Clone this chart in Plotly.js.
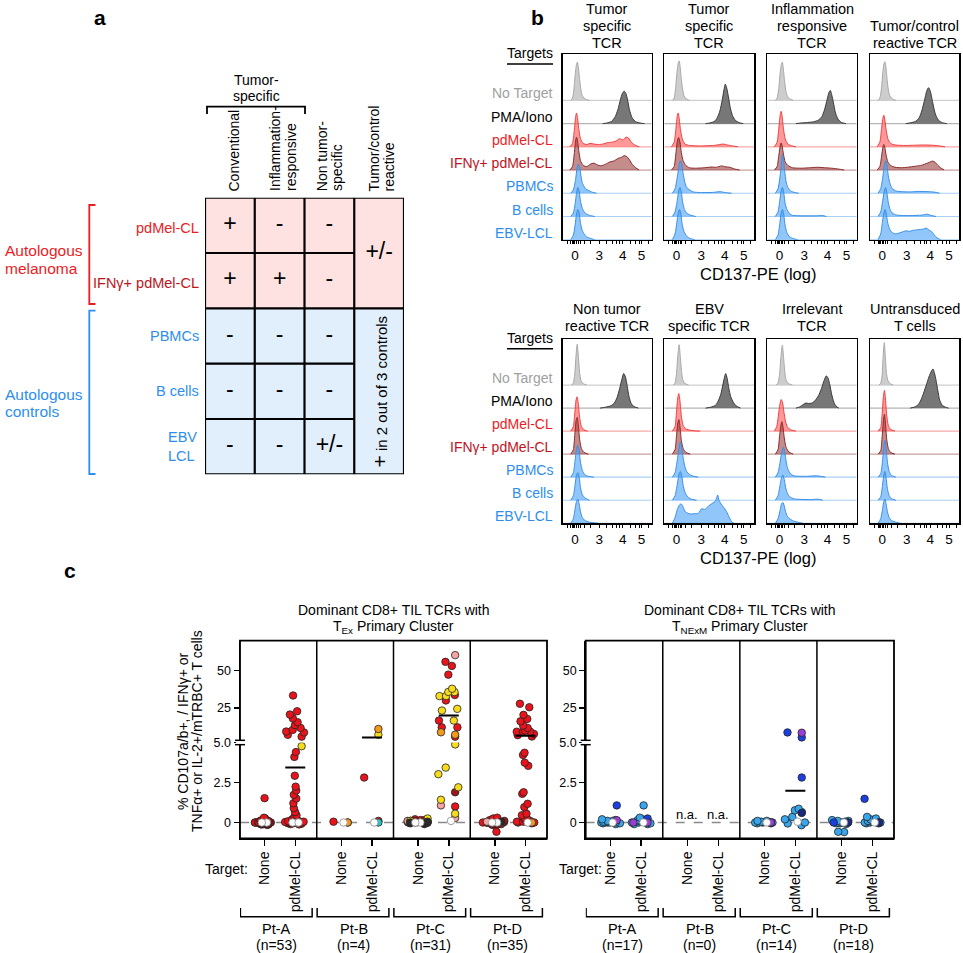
<!DOCTYPE html>
<html><head><meta charset="utf-8">
<script src="https://cdn.plot.ly/plotly-3.0.1.min.js"></script>
<style>body{margin:0;background:#fff}#chart{width:963px;height:953px}</style>
</head><body><div id="chart"></div>
<script>
// ================= Panel a data =================
const tableRows = ['pdMel-CL', 'IFNγ+ pdMel-CL', 'PBMCs', 'B cells', 'EBV<br>LCL'];
const tableRowGroup = [0, 0, 1, 1, 1];
const tableCols = [['Conventional'], ['Inflammation-','responsive'], ['Non tumor-','specific'], ['Tumor/control','reactive']];
const tableCells = [['+','-','-'],['+','+','-'],['-','-','-'],['-','-','-'],['-','-','+/-']];
const tableMergedTop = '+/-';
const tableMergedBottom = '<span style="font-size:21px">+</span> in 2 out of 3 controls';
const tableGroups = [['Autologous','melanoma'], ['Autologous','controls']];

// ================= Panel b data =================
const targets = ['No Target','PMA/Iono','pdMel-CL','IFNγ+ pdMel-CL','PBMCs','B cells','EBV-LCL'];
const histTitles = [['Tumor','specific','TCR'],['Tumor','specific','TCR'],['Inflammation','responsive','TCR'],['Tumor/control','reactive TCR'],
                    ['Non tumor','reactive TCR'],['EBV','specific TCR'],['Irrelevant','TCR'],['Untransduced','T cells']];
const cd137TickVals = [13.7, 41.2, 67.4, 88.6];
const cd137TickText = ['0','3','4','5'];
const cd137MinorTicks = [5, 9, 11, 12.3, 15.5, 17.5, 19.5, 24, 30.7, 49.4, 56.2, 60.7, 63.7, 75.7, 81.3, 86.1, 96.3];

const histTumorSpec1 = [
 [[9,0],[11,0.1],[12.5,0.45],[14,1.1],[15.5,1.55],[16.5,1.65],[17.5,1.45],[19,0.9],[20.5,0.45],[22,0.2],[24,0.1],[27,0.03],[30,0]],
 [[45,0],[50,0.03],[55,0.1],[59,0.3],[62,0.6],[65,1.05],[67,1.3],[69,1.4],[71,1.3],[73,1.0],[75,0.6],[78,0.25],[82,0.08],[88,0.02],[92,0]],
 [[8,0],[11,0.15],[13,0.7],[14.5,1.3],[15.5,1.46],[16.5,1.3],[18,0.8],[20,0.35],[23,0.15],[27,0.1],[31,0.15],[35,0.12],[40,0.1],[45,0.12],[50,0.18],[55,0.2],[60,0.25],[64,0.35],[68,0.3],[71,0.42],[74,0.38],[77,0.2],[81,0.08],[86,0]],
 [[8,0],[11,0.15],[13,0.7],[14.5,1.25],[15.5,1.42],[16.5,1.3],[18,0.85],[20,0.4],[23,0.2],[27,0.15],[31,0.25],[35,0.3],[39,0.22],[43,0.18],[48,0.25],[53,0.35],[58,0.4],[62,0.5],[66,0.55],[69,0.62],[72,0.58],[75,0.45],[78,0.25],[82,0.1],[86,0]],
 [[9,0],[12,0.15],[14.5,0.6],[16,1.05],[17.5,1.25],[19,1.15],[20.5,0.75],[22,0.45],[24,0.3],[26,0.18],[29,0.12],[33,0.05],[38,0]],
 [[9,0],[12,0.15],[14,0.55],[15.5,1.0],[17,1.25],[18.5,1.1],[20,0.65],[22,0.35],[24,0.2],[27,0.1],[31,0.04],[36,0]],
 [[9,0],[12,0.2],[14,0.65],[15.5,1.1],[17,1.3],[18.5,1.15],[20,0.7],[22,0.4],[24,0.25],[27,0.12],[31,0.06],[36,0]]
];
const histTumorSpec2 = [
 [[9,0],[11,0.1],[12.5,0.5],[14,1.15],[15.5,1.6],[16.5,1.7],[17.5,1.5],[19,0.9],[20.5,0.45],[22,0.2],[24,0.08],[28,0]],
 [[46,0],[51,0.03],[56,0.1],[59,0.25],[62,0.55],[64.5,1.0],[66.5,1.45],[68,1.7],[69.5,1.55],[71.5,1.15],[73.5,0.7],[76,0.35],[79,0.15],[83,0.05],[88,0]],
 [[8,0],[11,0.2],[13,0.8],[14.5,1.35],[15.5,1.46],[16.5,1.25],[18,0.75],[20,0.35],[23,0.12],[28,0.06],[40,0.04],[55,0.06],[62,0.1],[66,0.12],[70,0.08],[76,0.04],[82,0]],
 [[8,0],[11,0.15],[13,0.75],[14.5,1.25],[16,1.4],[17.5,1.2],[19,0.75],[21,0.4],[24,0.2],[28,0.1],[35,0.08],[45,0.1],[52,0.13],[58,0.12],[64,0.18],[68,0.14],[73,0.12],[78,0.05],[84,0]],
 [[9,0],[12,0.2],[14.5,0.7],[16.5,1.2],[18,1.4],[19.5,1.25],[21,0.85],[23,0.45],[25,0.25],[28,0.15],[32,0.06],[40,0.03],[55,0.04],[62,0.07],[68,0.03],[75,0]],
 [[9,0],[12,0.2],[14.5,0.7],[16,1.1],[17.5,1.25],[19,1.05],[20.5,0.6],[22.5,0.3],[25,0.15],[29,0.06],[35,0]],
 [[9,0],[12,0.25],[14,0.75],[15.5,1.15],[17,1.3],[18.5,1.1],[20,0.65],[22,0.35],[25,0.15],[29,0.05],[34,0]]
];
const histInflResp = [
 [[9,0],[11,0.1],[12.8,0.5],[14.3,1.15],[15.8,1.58],[16.8,1.65],[17.8,1.4],[19.3,0.85],[20.8,0.4],[22.5,0.18],[25,0.07],[29,0]],
 [[32,0],[38,0.03],[45,0.05],[52,0.08],[57,0.15],[61,0.3],[64,0.6],[67,1.05],[69,1.35],[70.5,1.43],[72,1.25],[74,0.9],[76,0.5],[79,0.2],[83,0.05],[88,0]],
 [[8,0],[11,0.2],[13,0.85],[14.5,1.4],[15.5,1.53],[16.5,1.35],[18,0.8],[20,0.35],[23,0.12],[27,0.05],[32,0]],
 [[8,0],[11,0.15],[13,0.65],[14.5,1.05],[15.5,1.17],[16.5,1.05],[18,0.7],[20,0.35],[23,0.2],[28,0.1],[38,0.08],[48,0.1],[56,0.12],[64,0.1],[72,0.08],[80,0.04],[86,0]],
 [[9,0],[12,0.2],[14.5,0.8],[16,1.4],[17,1.67],[18,1.5],[19.5,0.95],[21,0.5],[23,0.25],[26,0.1],[30,0.04],[35,0]],
 [[9,0],[12,0.2],[14,0.7],[15.5,1.1],[17,1.25],[18.5,1.0],[20,0.55],[22,0.3],[25,0.12],[28,0.05],[55,0.03],[62,0.04],[66,0]],
 [[9,0],[12,0.2],[14,0.7],[15.5,1.15],[17,1.3],[18.5,1.05],[20,0.6],[22,0.3],[25,0.12],[29,0.05],[34,0]]
];
const histTumorCtrl = [
 [[9,0],[11,0.1],[12.8,0.5],[14.3,1.2],[15.8,1.6],[16.8,1.67],[17.8,1.45],[19.3,0.85],[20.8,0.4],[22.5,0.18],[25,0.07],[29,0]],
 [[40,0],[46,0.04],[51,0.1],[55,0.25],[58,0.55],[61,1.0],[63.5,1.4],[65.5,1.55],[67.5,1.4],[70,0.95],[72.5,0.5],[75,0.25],[78,0.1],[82,0.03],[86,0]],
 [[8,0],[11,0.2],[13,0.8],[14.5,1.25],[15.5,1.36],[16.5,1.2],[18,0.75],[20,0.35],[23,0.15],[28,0.08],[40,0.06],[50,0.07],[60,0.08],[70,0.07],[78,0.04],[84,0]],
 [[8,0],[11,0.15],[13,0.6],[14.5,1.0],[15.5,1.1],[16.5,1.0],[18,0.65],[20,0.35],[23,0.2],[28,0.12],[35,0.1],[42,0.12],[48,0.15],[54,0.18],[59,0.22],[63,0.28],[67,0.34],[70,0.39],[73,0.33],[76,0.2],[79,0.1],[83,0]],
 [[9,0],[12,0.2],[14.5,0.75],[16,1.2],[17.5,1.4],[19,1.2],[20.5,0.75],[22.5,0.4],[25,0.2],[29,0.1],[35,0.07],[45,0.06],[55,0.08],[65,0.07],[72,0.05],[78,0]],
 [[9,0],[12,0.2],[14.5,0.75],[16,1.1],[17.5,1.25],[19,1.0],[20.5,0.6],[22.5,0.3],[25,0.15],[30,0.06],[45,0.04],[58,0.06],[64,0.1],[68,0.05],[74,0]],
 [[9,0],[12,0.25],[14,0.8],[15.5,1.15],[17,1.3],[18.5,1.05],[20,0.7],[22,0.45],[25,0.3],[28,0.25],[32,0.28],[36,0.33],[40,0.38],[44,0.36],[48,0.4],[52,0.42],[56,0.44],[60,0.46],[63,0.5],[66,0.42],[69,0.35],[72,0.2],[75,0.08],[79,0]]
];
const histNonTumor = [
 [[10,0],[12,0.1],[13.5,0.45],[15,1.3],[16.3,1.77],[17.5,1.3],[19,0.55],[20.5,0.2],[23,0.06],[27,0]],
 [[42,0],[48,0.04],[54,0.1],[58,0.22],[61,0.45],[64,0.85],[66.5,1.25],[68.5,1.5],[70.5,1.35],[72.5,0.95],[74.5,0.5],[77,0.2],[80,0.07],[85,0]],
 [[9,0],[12,0.2],[13.5,0.75],[15,1.35],[16.2,1.49],[17.5,1.2],[19,0.6],[21,0.2],[24,0.06],[28,0]],
 [[9,0],[12,0.2],[13.5,0.8],[15,1.45],[16.3,1.6],[17.5,1.3],[19,0.65],[21,0.25],[24,0.08],[29,0]],
 [[9,0],[12,0.2],[14,0.75],[15.5,1.25],[17,1.39],[18.5,1.15],[20,0.65],[22,0.3],[25,0.1],[29,0.04],[35,0]],
 [[9,0],[12,0.2],[14,0.7],[15.5,1.1],[17,1.2],[18.5,1.0],[20,0.55],[22,0.25],[25,0.1],[30,0]],
 [[9,0],[12,0.2],[14,0.65],[15.5,0.95],[17,1.05],[18.5,0.85],[20,0.5],[22,0.25],[25,0.12],[30,0.05],[40,0]]
];
const histEBV = [
 [[10,0],[12,0.1],[13.5,0.45],[15,1.25],[16.5,1.75],[17.7,1.3],[19.2,0.6],[20.7,0.22],[23,0.07],[27,0]],
 [[46,0],[52,0.04],[57,0.12],[60,0.3],[63,0.6],[65.5,1.05],[67.5,1.4],[68.5,1.5],[70,1.3],[72,0.85],[74,0.5],[77,0.25],[80,0.1],[85,0]],
 [[9,0],[12,0.2],[13.5,0.8],[15,1.45],[16.2,1.63],[17.5,1.3],[19,0.65],[21,0.25],[24,0.1],[30,0.03],[40,0]],
 [[9,0],[12,0.2],[13.5,0.75],[15,1.35],[16.3,1.5],[17.5,1.2],[19,0.6],[21,0.25],[24,0.08],[29,0]],
 [[9,0],[12,0.2],[14.5,0.75],[16.5,1.3],[18,1.53],[19.5,1.3],[21,0.85],[23,0.45],[25,0.25],[28,0.12],[32,0.05],[38,0]],
 [[9,0],[12,0.2],[14.5,0.7],[16.5,1.15],[18,1.25],[19.5,1.05],[21,0.65],[23,0.35],[26,0.15],[30,0.05],[36,0]],
 [[9,0],[12,0.25],[14.5,0.6],[17,0.8],[19,0.84],[21,0.7],[23.5,0.5],[26.5,0.43],[30,0.4],[34,0.42],[38,0.43],[41.5,0.63],[45,0.6],[48,0.7],[51,0.8],[54,0.88],[56.5,0.94],[58,1.05],[59.5,1.23],[61,1.0],[64,0.8],[67,0.65],[69.5,0.5],[72,0.3],[75,0.07],[78,0]]
];
const histIrrelevant = [
 [[10,0],[12,0.1],[13.7,0.45],[15.3,1.25],[16.8,1.73],[18,1.3],[19.5,0.6],[21,0.22],[23.5,0.07],[28,0]],
 [[32,0],[36,0.05],[40,0.15],[43,0.22],[46,0.2],[50,0.22],[54,0.35],[58,0.6],[61,0.9],[63.5,1.2],[66,1.4],[68,1.3],[70,1.0],[72,0.6],[74.5,0.25],[77,0.08],[80,0]],
 [[8,0],[10.5,0.2],[12.5,0.7],[14,1.15],[15.5,1.37],[17,1.25],[18.5,0.85],[20.5,0.4],[23,0.15],[27,0.05],[32,0]],
 [[9,0],[12,0.2],[13.5,0.7],[15,1.2],[16.3,1.41],[17.5,1.2],[19,0.7],[21,0.3],[24,0.1],[29,0]],
 [[9,0],[12,0.2],[14.5,0.7],[16.5,1.15],[18,1.3],[19.5,1.1],[21,0.7],[23,0.35],[26,0.15],[30,0.06],[45,0.04],[52,0.06],[58,0.05],[65,0]],
 [[9,0],[12,0.2],[14.5,0.7],[16,1.0],[17.5,1.1],[19,0.9],[20.5,0.55],[22.5,0.3],[25,0.15],[30,0.06],[50,0.03],[56,0.05],[62,0]],
 [[9,0],[12,0.2],[14.5,0.6],[16,0.85],[17.5,0.9],[19,0.75],[20.5,0.5],[22.5,0.3],[25,0.2],[28,0.12],[33,0.06],[40,0]]
];
const histUntransduced = [
 [[10,0],[12,0.08],[13.5,0.4],[14.8,1.3],[16,1.84],[17,1.35],[18.3,0.55],[20,0.2],[22.5,0.06],[26,0]],
 [[45,0],[50,0.05],[54,0.15],[57,0.35],[60,0.65],[63,1.0],[65.5,1.3],[67.5,1.5],[69,1.62],[70.5,1.7],[72,1.55],[74,1.2],[76,0.75],[78,0.35],[81,0.12],[85,0.03],[88,0]],
 [[9,0],[12,0.15],[13.5,0.7],[15,1.5],[16.2,1.77],[17.3,1.4],[18.7,0.7],[20.5,0.25],[23,0.08],[28,0]],
 [[9,0],[12,0.15],[13.5,0.7],[15,1.45],[16.2,1.74],[17.3,1.35],[18.7,0.65],[20.5,0.25],[23,0.08],[28,0]],
 [[9,0],[12,0.15],[14,0.7],[15.5,1.35],[16.7,1.6],[18,1.3],[19.5,0.65],[21.5,0.25],[24,0.08],[29,0]],
 [[9,0],[12,0.15],[14,0.65],[15.5,1.1],[16.7,1.25],[18,1.0],[19.5,0.5],[21.5,0.2],[24,0.07],[29,0]],
 [[9,0],[12,0.2],[14,0.6],[15.5,0.95],[16.7,1.05],[18,0.85],[19.5,0.5],[21.5,0.25],[24,0.12],[28,0.06],[34,0]]
];

// ================= Panel c data =================
const patients = ['Pt-A','Pt-B','Pt-C','Pt-D'];
const texCounts = [53, 4, 31, 35];
const tnexmCounts = [17, 0, 14, 18];
const cTargets = ['None', 'pdMel-CL'];
const cTitles = [['Dominant CD8+ TIL TCRs with', 'T<sub>Ex</sub> Primary Cluster'], ['Dominant CD8+ TIL TCRs with', 'T<sub>NExM</sub> Primary Cluster']];
const cYTitle = ['% CD107a/b+, / IFNγ+ or', 'TNFα+ or IL-2+/mTRBC+ T cells'];
// values per patient, grouped by dot colour key
const texNone = [
 {r:[1.52,0.3,0.25,0.2,0.2,0.15,0.15,0.12,0.1,0.1,0.1,0.08,0.08,0.05,0.05,0.05,0.05,0.03,0.03,0.02,0.02,0,0,0,0,0,0,0,0,0,0,0,0,0,0,-0.02,-0.02,-0.03,-0.05,-0.05,-0.05,-0.08,-0.08,-0.1,-0.1,-0.1,-0.12,-0.12,-0.15,0.05,0.1], w:[0,0]},
 {r:[0,0.05], w:[0], o:[0]},
 {r:[0.2,0.15,0.1,0.05,0,0,0,-0.05,-0.1,0.08,0.02,-0.02], d:[0.15,0.1,0.05,0,0,-0.05], p:[0.1,0,0.05,-0.03], y:[0.25,0.1,0], k:[0.05,0,-0.05], o:[0.03], w:[0,0]},
 {r:[0.3,0.25,0.2,0.15,0.15,0.1,0.1,0.08,0.05,0.05,0.03,0.02,0,0,0,0,0,0,-0.02,-0.03,-0.05,-0.05,-0.08,-0.1,-0.12,-0.15,-0.58], d:[0.1,0,-0.1], p:[0.05,0], k:[0.05], w:[0,0]}
];
const texPd = [
 {r:[33.2,22.7,20.5,18,15.4,13.5,11.6,10.3,9.2,8.6,7,5.8,4.4,4.1,2.92,2.24,2.0,1.73,1.5,1.2,0.9,0.65,0.45,0.35,0.25,0.2,0.18,0.15,0.12,0.1,0.1,0.08,0.05,0.05,0.05,0.03,0.02,0,0,0,0,0,0,-0.02,-0.05,-0.05,-0.08,-0.1,-0.12], y:[4.77], w:[0,0,0]},
 {r:[2.81,0.1], y:[7.1], o:[10.9], c:[0], w:[0]},
 {r:[55.6,52.9,47.1,33.5,29.9,16.5,12,12,5.8,1.0], d:[1.89], p:[60.1,1.07,0.28], y:[37.7,35.5,35.6,32.8,32.8,24.3,23.2,16.5,4.88,3.43,3.02,2.2,1.42,0.55], o:[8.7,7.1], w:[0.1]},
 {r:[27.7,25.4,20.3,17.6,16.0,13.1,11.6,9.8,9.1,9.1,9.1,7.6,6.8,5.9,4.36,4.22,3.74,3.54,1.89,1.79,1.17,0.96,0.55,0.45,0.3,0.2,0.15,0.1,0.05,0.05,0,0,-0.05], o:[0], w:[0]}
];
const texPdMeans = [3.43, 5.3, 19.8, 6.4];
const tnexmNone = [
 {l:[0.2,0.15,0.1,0.1,0.05,0.05,0,0,0,0,-0.05,-0.05,-0.1,0], b:[1.07], v:[0.14], w:[0]},
 {},
 {l:[0.1,0.1,0.05,0.05,0,0,0,0,-0.05,-0.05,0.02], n:[0], v:[0], w:[0]},
 {l:[0.15,0.1,0.1,0.05,0.05,0,0,0,0,-0.05,-0.05,-0.1,-0.58,-0.6], b:[0,0], n:[0], w:[0]}
];
const tnexmPd = [
 {l:[1.07,0.3,0.2,0.15,0.1,0.05,0,0,0,-0.05,-0.1,-0.1,0.05], b:[0.25], v:[0,0], w:[0]},
 {},
 {l:[0.86,0.76,0.65,0.35,0.2,0,-0.06,-0.17], b:[8.6,5.3,2.81], n:[0.6], v:[8.4], w:[0.05]},
 {l:[0.35,0.25,0.2,0.15,0.1,0.1,0.05,0.05,0,0,0,-0.05,-0.05,0], b:[1.48,0], n:[0], w:[0]}
];
const tnexmPdMeans = [null, null, 1.99, null];

// ================= styles =================
const W = 963, H = 953;
const X = p => p / W;
const Y = p => 1 - p / H;
const FONT = '"Liberation Sans", Arial, Helvetica, sans-serif';
const RED = '#ec1c24', DRED = '#c0141c', BLUE = '#2d8ef0', GRAY = '#a0a0a0';
const targetColors = [GRAY, '#000000', RED, DRED, BLUE, BLUE, BLUE];
const histFill = ['rgba(200,200,200,0.9)','rgba(95,95,95,0.85)','rgba(255,85,85,0.6)','rgba(150,45,45,0.55)','rgba(70,160,245,0.6)','rgba(70,160,245,0.6)','rgba(70,160,245,0.6)'];
const histLine = ['#a8a8a8','#3a3a3a','#f04040','#8a2a2a','#3a8fe6','#3a8fe6','#3a8fe6'];
const histBase = ['#cfcfcf','#b5b5b5','#f7a9a9','#caa0a0','#a9d0f7','#a9d0f7','#a9d0f7'];
const dotColors = {r:'#e8141c', d:'#9a1a1a', p:'#f5a3a3', y:'#f7dc1e', o:'#f39a1e', c:'#2ec4c4', k:'#2a2a2a',
                   l:'#38a6ec', b:'#1c3fe0', n:'#1a2a80', v:'#9a3fd6', w:'#ffffff'};
const dotOrder = ['r','d','p','y','o','c','k','l','b','n','v','w'];

const traces = [], shapes = [], annotations = [];
const layout = {width:W, height:H, margin:{l:0,r:0,t:0,b:0}, paper_bgcolor:'#fff', plot_bgcolor:'rgba(0,0,0,0)',
  showlegend:false, font:{family:FONT, size:14, color:'#000'}, boxmode:'overlay', shapes, annotations};
function addAnn(o){
  const f = Object.assign({size:14, color:'#000', family:FONT}, o.font||{});
  annotations.push(Object.assign({xref:'paper', yref:'paper', showarrow:false, xanchor:'center', yanchor:'middle'}, o, {font:f}));
}
// annotation in pixel coordinates (paper)
function ann(o){ const c = Object.assign({}, o); if (c.px !== undefined) { c.x = X(c.px); delete c.px; } if (c.py !== undefined) { c.y = Y(c.py); delete c.py; } addAnn(c); }
function line(x0,y0,x1,y1,w,c){ shapes.push({type:'line', xref:'paper', yref:'paper', x0:X(x0), y0:Y(y0), x1:X(x1), y1:Y(y1), line:{color:c||'#000', width:w||1.5}}); }
function pathPx(pts,w,c){ shapes.push({type:'path', xref:'paper', yref:'paper', path: pts.map((p,i)=>(i?'L':'M')+X(p[0])+','+Y(p[1])).join(' '), line:{color:c||'#000', width:w||1.5}}); }

// ================= Panel a =================
ann({text:'<b>a</b>', px:100, py:18, font:{size:21}});
layout.xaxis = {domain:[X(205),X(404)], range:[-0.5,3.5], anchor:'y', visible:false, fixedrange:true};
layout.yaxis = {domain:[Y(474.3),Y(197.7)], range:[4.5,-0.5], anchor:'x', visible:false, fixedrange:true};
traces.push({type:'heatmap', x:[0,1,2,3], y:[0,1,2,3,4], z: tableRowGroup.map(g => tableCols.map(() => g)),
  zmin:0, zmax:1, colorscale:[[0,'#fde2e1'],[1,'#e1effc']], showscale:false, hoverinfo:'skip', xaxis:'x', yaxis:'y'});
const tx = [], ty = [], tt = [];
tableCells.forEach((row, r) => row.forEach((s, c) => { tx.push(c); ty.push(r); tt.push(s); }));
tx.push(3); ty.push(0.5); tt.push(tableMergedTop);
traces.push({type:'scatter', mode:'text', x:tx, y:ty, text:tt, textfont:{size:23, color:'#000', family:FONT}, hoverinfo:'skip', xaxis:'x', yaxis:'y'});
addAnn({xref:'x', yref:'y', x:3, y:3, text:tableMergedBottom, textangle:-90, font:{size:15}});
// table grid
const g = (x0,y0,x1,y1) => shapes.push({type:'line', xref:'x', yref:'y', x0, y0, x1, y1, line:{color:'#000', width:2.2}});
g(-0.5,-0.5,3.5,-0.5); g(-0.5,4.5,3.5,4.5); g(-0.5,-0.5,-0.5,4.5); g(3.5,-0.5,3.5,4.5);
[0.5,1.5,2.5].forEach(v => g(v,-0.5,v,4.5));
g(-0.5,1.5,3.5,1.5); [0.5,2.5,3.5].forEach(v => g(-0.5,v,2.5,v));
// column headers (rotated, bottom aligned)
const colHeaderX = [[233], [275, 290.5], [321.7, 337], [373, 388.5]];
tableCols.forEach((lines, i) => lines.forEach((t, k) => ann({text:t, px:colHeaderX[i][k], py:193.5, yanchor:'bottom', textangle:-90, font:{size:14}})));
ann({text:'Tumor-', px:256, py:80, font:{size:14}});
ann({text:'specific', px:256, py:96, font:{size:14}});
pathPx([[207,114],[207,106.7],[305,106.7],[305,114]], 1.8);
// row labels
tableRows.forEach((t, i) => addAnn({xref:'paper', yref:'y', x:X(i===4?199:201), y:i + (i<2 ? 0.05 : 0), xanchor:'right', align:'left',
  text:t, font:{size:14.5, color: i===0?RED : i===1?DRED : BLUE}}));
tableGroups.forEach((lines, gi) => lines.forEach((t, k) => ann({text:t, px:3, py:(gi ? 394 : 250.7) + k*17.6, xanchor:'left',
  font:{size:15.5, color: gi ? BLUE : RED}})));
pathPx([[95.5,205],[89.3,205],[89.3,304],[95.5,304]], 1.8, RED);
pathPx([[95.5,310.7],[89.3,310.7],[89.3,474],[95.5,474]], 1.8, BLUE);

// ================= Panel b =================
ann({text:'<b>b</b>', px:537, py:17, font:{size:21}});
const histPanels = [histTumorSpec1, histTumorSpec2, histInflResp, histTumorCtrl, histNonTumor, histEBV, histIrrelevant, histUntransduced];
const bxDom = [[562.7,651.7],[664.3,754],[767.3,856.7],[870,959.3]];
const byDom = [[54,239.7],[339,523.3]];
histPanels.forEach((curves, p) => {
  const n = p + 2, col = p % 4, row = Math.floor(p / 4);
  layout['xaxis'+n] = {domain:[X(bxDom[col][0]), X(bxDom[col][1])], range:[0,100], anchor:'y'+n, showline:true, mirror:true, linewidth:1.5, linecolor:'#000',
    showgrid:false, zeroline:false, ticks:'outside', ticklen:3, tickwidth:1, tickcolor:'#000', tickmode:'array', tickvals:cd137TickVals, ticktext:cd137TickText,
    tickfont:{size:13.5}, minor:{tickvals:cd137MinorTicks, ticks:'outside', ticklen:3, tickcolor:'#000', showgrid:false}, fixedrange:true};
  layout['yaxis'+n] = {domain:[Y(byDom[row][1]), Y(byDom[row][0])], range:[0,8], anchor:'x'+n, showline:true, mirror:true, linewidth:1.5, linecolor:'#000',
    showgrid:false, zeroline:false, showticklabels:false, ticks:'', fixedrange:true};
  curves.forEach((pts, i) => {
    const base = 6 - i;
    shapes.push({type:'line', xref:'x'+n, yref:'y'+n, x0:0, x1:100, y0:base, y1:base, layer:'below', line:{color:histBase[i], width:1.2}});
    traces.push({type:'scatter', mode:'lines', x:pts.map(d => d[0]), y:pts.map(d => base + d[1]), fill:'toself', fillcolor:histFill[i],
      line:{color:histLine[i], width:1, shape:'spline', smoothing:0.6}, xaxis:'x'+n, yaxis:'y'+n, hoverinfo:'skip'});
  });
  const lines = histTitles[p], lastY = row ? 326 : 43;
  lines.forEach((t, k) => ann({text:t, px:(bxDom[col][0]+bxDom[col][1])/2, py:lastY - (lines.length-1-k)*17, font:{size:14.5}}));
});
[0,1].forEach(row => {
  const n = row*4 + 2;
  targets.forEach((t, i) => addAnn({xref:'paper', yref:'y'+n, x:X(555), y:(6-i)+0.3, xanchor:'right', text:t, font:{size:14, color:targetColors[i]}}));
  const ty0 = row ? 337.7 : 53;
  ann({text:'Targets', px:530, py:ty0, font:{size:14}});
  line(507, ty0+11, 553, ty0+11, 1.5);
  ann({text:'CD137-PE (log)', px:758, py:row ? 558 : 273.5, font:{size:16.5}});
});

// ================= Panel c =================
ann({text:'<b>c</b>', px:70, py:570, font:{size:21}});
const cPanels = [
  {xa:10, yl:10, yu:11, left:240, right:547, none:texNone, pd:texPd, means:texPdMeans, counts:texCounts, title:cTitles[0], tgt:226},
  {xa:11, yl:12, yu:13, left:585.7, right:894, none:tnexmNone, pd:tnexmPd, means:tnexmPdMeans, counts:tnexmCounts, title:cTitles[1], tgt:580}
];
const cTop = 640.7, cBrk = 742.5, cBot = 838.5;
const colPos = [0.32, 0.72];
cPanels.forEach(P => {
  const tv = [], tt2 = [];
  patients.forEach((pt, j) => colPos.forEach((c, k) => { tv.push(j + c); tt2.push(cTargets[k]); }));
  layout['xaxis'+P.xa] = {domain:[X(P.left), X(P.right)], range:[0,4], anchor:'y'+P.yl, showline:true, linewidth:1.5, linecolor:'#000', showgrid:false, zeroline:false,
    ticks:'outside', ticklen:6, tickwidth:1.5, tickcolor:'#000', tickmode:'array', tickvals:tv, ticktext:tt2, tickangle:-90, tickfont:{size:14}, fixedrange:true};
  layout['yaxis'+P.yl] = {domain:[Y(cBot), Y(cBrk)], range:[-1,5], anchor:'x'+P.xa, showline:true, linewidth:1.5, linecolor:'#000', showgrid:false, zeroline:false,
    ticks:'outside', ticklen:5, tickwidth:1.5, tickcolor:'#000', tickmode:'array', tickvals:[0,2.5,5], ticktext:['0','2.5','5.0'], tickfont:{size:12.5}, fixedrange:true};
  layout['yaxis'+P.yu] = {domain:[Y(cBrk), Y(cTop)], range:[1.9,69.7], anchor:'x'+P.xa, showline:true, linewidth:1.5, linecolor:'#000', showgrid:false, zeroline:false,
    ticks:'outside', ticklen:5, tickwidth:1.5, tickcolor:'#000', tickmode:'array', tickvals:[25,50], ticktext:['25','50'], tickfont:{size:12.5}, fixedrange:true};
  // box frame, dividers, zero line, axis break
  shapes.push({type:'rect', xref:'paper', yref:'paper', x0:X(P.left), x1:X(P.right), y0:Y(cBot), y1:Y(cTop), line:{color:'#000', width:1.8}});
  [1,2,3].forEach(v => shapes.push({type:'line', xref:'x'+P.xa, yref:'paper', x0:v, x1:v, y0:Y(cBot), y1:Y(cTop), line:{color:'#000', width:1.5}}));
  shapes.push({type:'line', xref:'paper', yref:'y'+P.yl, x0:X(P.left), x1:X(P.right), y0:0, y1:0, layer:'below', line:{color:'#8a8a8a', width:1.6, dash:'dash'}});
  shapes.push({type:'rect', xref:'paper', yref:'paper', x0:X(P.left-4), x1:X(P.left+4), y0:Y(cBrk+2.2), y1:Y(cBrk-2.2), fillcolor:'#fff', line:{width:0}});
  line(P.left-5, cBrk-2.2, P.left+5, cBrk-2.2, 1.5);
  line(P.left-5, cBrk+2.2, P.left+5, cBrk+2.2, 1.5);
  // dots
  patients.forEach((pt, j) => {
    [P.none[j], P.pd[j]].forEach((grp, k) => {
      const xpos = j + colPos[k];
      dotOrder.forEach(key => {
        const vals = grp[key]; if (!vals || !vals.length) return;
        [[vals.filter(v => v <= 5), 'y'+P.yl], [vals.filter(v => v > 5), 'y'+P.yu]].forEach(([vs, ya]) => {
          if (!vs.length) return;
          traces.push({type:'box', x:vs.map(() => xpos), y:vs, boxpoints:'all', jitter: key==='w' ? 0.35 : 1, pointpos:0, width:0.32,
            fillcolor:'rgba(0,0,0,0)', line:{width:0, color:'rgba(0,0,0,0)'}, hoveron:'points',
            marker:{color:dotColors[key], size:7.5, line:{color: key==='w' ? '#888' : '#222', width:0.8}},
            xaxis:'x'+P.xa, yaxis:ya});
        });
      });
    });
    const m = P.means[j];
    if (m !== null) traces.push({type:'scatter', mode:'lines', x:[j+colPos[1]-0.13, j+colPos[1]+0.13], y:[m, m], line:{color:'#000', width:2},
      xaxis:'x'+P.xa, yaxis: m > 5 ? 'y'+P.yu : 'y'+P.yl, hoverinfo:'skip'});
    // patient brackets and labels
    shapes.push({type:'path', xref:'x'+P.xa, yref:'paper', path:`M${j+0.005},${Y(908)} L${j+0.005},${Y(916.7)} L${j+0.94},${Y(916.7)} L${j+0.94},${Y(908)}`, line:{color:'#000', width:1.5}});
    addAnn({xref:'x'+P.xa, x:j+0.48, y:Y(928.5), text:pt, font:{size:14.5}});
    addAnn({xref:'x'+P.xa, x:j+0.48, y:Y(945), text:`(n=${P.counts[j]})`, font:{size:14}});
    if (P.counts[j] === 0) colPos.forEach(c => addAnn({xref:'x'+P.xa, yref:'y'+P.yl, x:j+c, y:0.47, text:'n.a.', font:{size:13}}));
  });
  P.title.forEach((t, k) => ann({text:t, px:(P.left+P.right)/2, py:610 + k*17, font:{size:14}}));
  ann({text:'Target:', px:P.tgt, py:869, font:{size:14}});
});
cYTitle.forEach((t, k) => ann({text:t, px:183 + k*14, py:731, textangle:-90, font:{size:14}}));

Plotly.newPlot('chart', traces, layout, {displayModeBar:false, staticPlot:true});
</script>
</body></html>
